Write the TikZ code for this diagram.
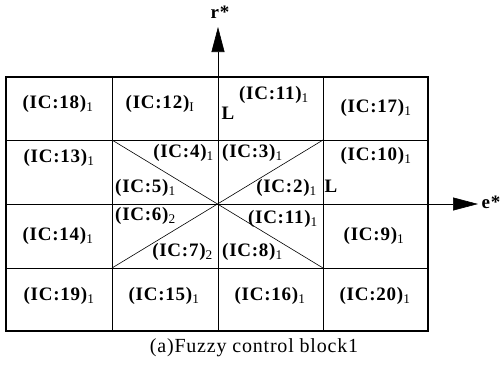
\documentclass[tikz,border=0pt]{standalone}
\usepackage{fontspec}
\setmainfont{Liberation Serif}
\usetikzlibrary{arrows.meta}
\newcommand{\sbx}[1]{\textsubscript{\mdseries #1}}
\begin{document}
\begin{tikzpicture}[x=1pt,y=-1pt,
  lab/.style={font=\fontsize{19}{22}\selectfont\bfseries\addfontfeature{LetterSpace=4}, inner sep=0pt},
  grid/.style={line width=0.6pt},
  border/.style={line width=1.4pt},
  axis/.style={line width=0.6pt, -{Triangle[length=25pt,width=13pt]}}]
\useasboundingbox (0,0) rectangle (500,365);
% grid coordinates
\coordinate (a0) at (6,77);   \coordinate (a4) at (428,331);
\coordinate (v1t) at (112,77);  \coordinate (v1b) at (112,331);
\coordinate (v3t) at (323,77);  \coordinate (v3b) at (323,331);
\coordinate (h1l) at (6,140);   \coordinate (h1r) at (428,140);
\coordinate (h3l) at (6,268);   \coordinate (h3r) at (428,268);
\coordinate (xl) at (6,204);    \coordinate (xtip) at (478,204);
\coordinate (yb) at (218,331);  \coordinate (ytip) at (218,27);
\coordinate (d1) at (112,140);  \coordinate (d2) at (323,268);
\coordinate (d3) at (112,268);  \coordinate (d4) at (323,140);
% inner lines
\draw[grid] (v1t) -- (v1b);
\draw[grid] (v3t) -- (v3b);
\draw[grid] (h1l) -- (h1r);
\draw[grid] (h3l) -- (h3r);
\draw[grid] (d1) -- (d2);
\draw[grid] (d3) -- (d4);
% axes
\draw[axis] (xl) -- (xtip);
\draw[axis] (yb) -- (ytip);
% border
\draw[border] (a0) rectangle (a4);
% labels
\node[lab, anchor=mid] (ic18) at (58,106) {(IC:18)\sbx{1}};
\node[lab, anchor=mid] (ic12) at (160,106) {(IC:12)\sbx{I}};
\node[lab, anchor=mid] (ic11a) at (274,97) {(IC:11)\sbx{1}};
\node[lab, anchor=mid] (la) at (228,117) {L};
\node[lab, anchor=mid] (ic17) at (376,110) {(IC:17)\sbx{1}};
\node[lab, anchor=mid] (ic13) at (59,160) {(IC:13)\sbx{1}};
\node[lab, anchor=mid east] (ic4) at (214,155) {(IC:4)\sbx{1}};
\node[lab, anchor=mid west] (ic3) at (222,155) {(IC:3)\sbx{1}};
\node[lab, anchor=mid] (ic10) at (376,158) {(IC:10)\sbx{1}};
\node[lab, anchor=mid west] (ic5) at (115,190) {(IC:5)\sbx{1}};
\node[lab, anchor=mid east] (ic2) at (317,190) {(IC:2)\sbx{1}};
\node[lab, anchor=mid] (lb) at (331,190) {L};
\node[lab, anchor=mid] (ic14) at (58,238) {(IC:14)\sbx{1}};
\node[lab, anchor=mid west] (ic6) at (115,218) {(IC:6)\sbx{2}};
\node[lab, anchor=mid east] (ic11b) at (318,221) {(IC:11)\sbx{1}};
\node[lab, anchor=mid] (ic9) at (374,238) {(IC:9)\sbx{1}};
\node[lab, anchor=mid east] (ic7) at (213,254) {(IC:7)\sbx{2}};
\node[lab, anchor=mid west] (ic8) at (222,254) {(IC:8)\sbx{1}};
\node[lab, anchor=mid] (ic19) at (59,298) {(IC:19)\sbx{1}};
\node[lab, anchor=mid] (ic15) at (164,298) {(IC:15)\sbx{1}};
\node[lab, anchor=mid] (ic16) at (270,298) {(IC:16)\sbx{1}};
\node[lab, anchor=mid] (ic20) at (375,298) {(IC:20)\sbx{1}};
\node[lab, anchor=mid] (rs) at (220,16) {r*};
\node[lab, anchor=mid] (es) at (491,206) {e*};
\node[inner sep=0pt, anchor=mid, font=\fontsize{20}{23}\selectfont\addfontfeature{LetterSpace=4}] (cap) at (254,350) {(a)Fuzzy control block1};
\end{tikzpicture}
\end{document}
